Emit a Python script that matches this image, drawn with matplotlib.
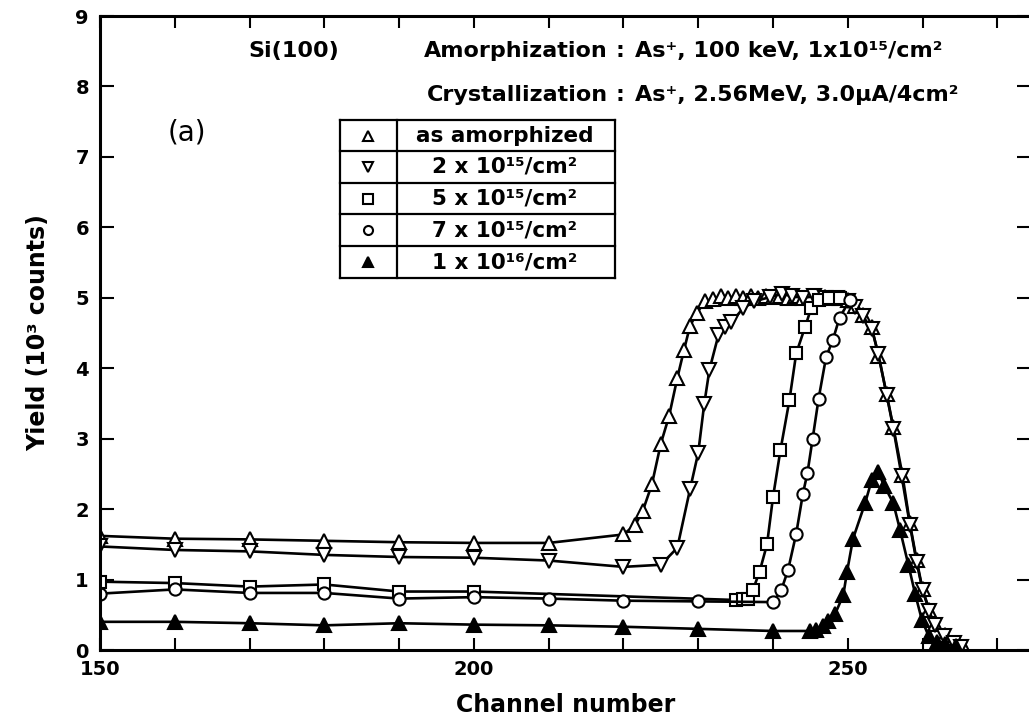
import matplotlib.pyplot as plt
from matplotlib.lines import Line2D

plt.rcParams['font.family'] = ['DejaVu Sans']
plt.rcParams['font.weight'] = 'bold'
plt.rcParams['axes.labelweight'] = 'bold'

# channel / yield (10^3 counts) for each dose
amorph_ch = [150, 160, 170, 180, 190, 200, 210, 220, 221.6, 222.6, 223.8, 225.0, 226.1,
             227.2, 228.1, 228.9, 229.8, 230.9, 232, 233, 234, 235, 236, 237, 238, 239,
             240, 241, 242, 243, 244, 245, 246, 247, 248, 249, 250, 251, 252, 253.2,
             254.1, 255.2, 256.1, 257.3, 258.3, 259.2, 260.0, 260.9, 261.6, 263.0, 264.6, 265.6]
amorph_y = [1.62, 1.58, 1.57, 1.55, 1.53, 1.52, 1.52, 1.64, 1.78, 1.98, 2.35, 2.93, 3.32,
            3.86, 4.26, 4.60, 4.78, 4.95, 4.98, 5.02, 4.99, 5.03, 5.00, 5.02, 5.00, 5.03,
            5.01, 5.03, 5.00, 5.02, 5.00, 5.02, 5.00, 5.01, 5.00, 5.00, 4.97, 4.88, 4.75, 4.58,
            4.18, 3.63, 3.16, 2.49, 1.80, 1.28, 0.86, 0.57, 0.37, 0.21, 0.09, 0.03]

d2_ch = [150, 160, 170, 180, 190, 200, 210, 220, 225, 227.2, 228.9, 230.0, 230.8, 231.5,
         232.7, 233.6, 234.4, 236.0, 237.5, 239.6, 241.2, 242.5, 244, 245.5, 247, 248.5,
         250, 251, 252, 253.2, 254.1, 255.2, 256.1, 257.2, 258.3, 259.2, 260.0, 260.9,
         261.6, 262.9, 264.2, 265.2]
d2_y = [1.47, 1.42, 1.40, 1.35, 1.32, 1.31, 1.27, 1.18, 1.21, 1.45, 2.28, 2.80, 3.49, 3.98,
        4.47, 4.58, 4.65, 4.85, 4.95, 5.01, 5.06, 5.02, 5.00, 5.02, 5.00, 5.00,
        4.96, 4.87, 4.74, 4.56, 4.20, 3.62, 3.14, 2.47, 1.78, 1.25, 0.85, 0.55,
        0.36, 0.20, 0.10, 0.04]

d5_ch = [150, 160, 170, 180, 190, 200, 235.0, 236.0, 236.6, 237.3, 238.2, 239.2, 240.0,
         241.0, 242.2, 243.1, 244.3, 245.1, 246.2, 247.5, 249]
d5_y = [0.97, 0.95, 0.90, 0.93, 0.83, 0.83, 0.71, 0.72, 0.73, 0.85, 1.11, 1.50, 2.17,
        2.84, 3.55, 4.21, 4.59, 4.85, 4.97, 5.00, 5.00]

d7_ch = [150, 160, 170, 180, 190, 200, 210, 220, 230, 240, 241.1, 242.0, 243.1, 244.0,
         244.6, 245.3, 246.1, 247.1, 248.0, 248.9, 250.3]
d7_y = [0.80, 0.86, 0.81, 0.81, 0.73, 0.75, 0.73, 0.70, 0.69, 0.68, 0.85, 1.13, 1.65, 2.22,
        2.51, 3.00, 3.57, 4.16, 4.40, 4.72, 4.97]

d10_ch = [150, 160, 170, 180, 190, 200, 210, 220, 230, 240, 244.9, 245.8, 246.7, 247.4,
          248.3, 249.4, 249.9, 250.7, 252.3, 253.2, 254.0, 254.9, 256.1, 257.0, 258.1,
          259.0, 259.9, 260.8, 261.9, 263.0, 264.5]
d10_y = [0.40, 0.40, 0.38, 0.35, 0.38, 0.36, 0.35, 0.33, 0.30, 0.27, 0.27, 0.29, 0.34, 0.41,
         0.51, 0.78, 1.11, 1.58, 2.08, 2.41, 2.53, 2.33, 2.08, 1.70, 1.21,
         0.80, 0.43, 0.20, 0.12, 0.08, 0.05]

labels = ['as amorphized', '2 x 10¹⁵/cm²', '5 x 10¹⁵/cm²', '7 x 10¹⁵/cm²', '1 x 10¹⁶/cm²']
markers = ['^', 'v', 's', 'o', '^']
fills = ['white', 'white', 'white', 'white', 'black']
msizes = [10, 10, 8, 8.8, 10]

W, H = 1029, 724
fig = plt.figure(figsize=(W / 100, H / 100), dpi=100)
ax = fig.add_axes([100 / W, 1 - 650 / H, 931 / W, 634 / H])

series = [(amorph_ch, amorph_y), (d2_ch, d2_y), (d5_ch, d5_y), (d7_ch, d7_y), (d10_ch, d10_y)]
for (x, y), m, fc, ms in zip(series, markers, fills, msizes):
    ax.plot(x, y, '-', color='black', lw=1.9, marker=m, ms=ms, mfc=fc, mec='black', mew=1.5)

ax.set_xlim(150, 274.5)
ax.set_ylim(0, 9)
ax.set_xticks([150, 200, 250])
ax.set_xticks(range(150, 275, 10), minor=True)
ax.set_yticks(range(0, 10))
for s in ax.spines.values():
    s.set_linewidth(2.2)
ax.tick_params(which='both', direction='in', top=True, right=True, width=1.5,
               labelsize=14)
ax.tick_params(axis='x', which='both', length=8.5, pad=7)
ax.tick_params(axis='y', length=10, pad=8)

ax.set_xlabel('Channel number', fontsize=17, labelpad=10)
ax.set_ylabel('Yield (10³ counts)', fontsize=17, labelpad=18)


def fx(px):
    return px / W


def fy(py):
    return 1 - py / H


# conditions written above the curves
fs = 16
fig.text(fx(248), fy(57), 'Si(100)', fontsize=fs, va='baseline')
fig.text(fx(608), fy(57), 'Amorphization', fontsize=fs, va='baseline', ha='right')
fig.text(fx(620), fy(57), ':', fontsize=fs, va='baseline', ha='center')
fig.text(fx(635), fy(57), 'As⁺, 100 keV, 1x10¹⁵/cm²', fontsize=fs, va='baseline')
fig.text(fx(608), fy(101), 'Crystallization', fontsize=fs, va='baseline', ha='right')
fig.text(fx(620), fy(101), ':', fontsize=fs, va='baseline', ha='center')
fig.text(fx(635), fy(101), 'As⁺, 2.56MeV, 3.0μA/4cm²', fontsize=fs, va='baseline')
fig.text(fx(187), fy(132), '(a)', fontsize=20, ha='center', va='center', fontweight='normal')

# boxed legend table
left, mid, right = 340, 397, 615
rows = [120, 151, 183, 214, 246, 278]
lw = 1.6
for yy in rows:
    fig.add_artist(Line2D([fx(left), fx(right)], [fy(yy), fy(yy)], color='black', lw=lw))
for xx in (left, mid, right):
    fig.add_artist(Line2D([fx(xx), fx(xx)], [fy(rows[0]), fy(rows[-1])], color='black', lw=lw))
for i, (lab, m, fc) in enumerate(zip(labels, markers, fills)):
    yc = (rows[i] + rows[i + 1]) / 2
    fig.add_artist(Line2D([fx(368)], [fy(yc)], marker=m, ms=7.5 if m in '^v' else 6.5,
                          mfc=fc, mec='black', mew=1.5, ls='none'))
    fig.text(fx(505), fy(yc), lab, fontsize=15.5, ha='center', va='center')

fig.savefig('out.png', dpi=100)
